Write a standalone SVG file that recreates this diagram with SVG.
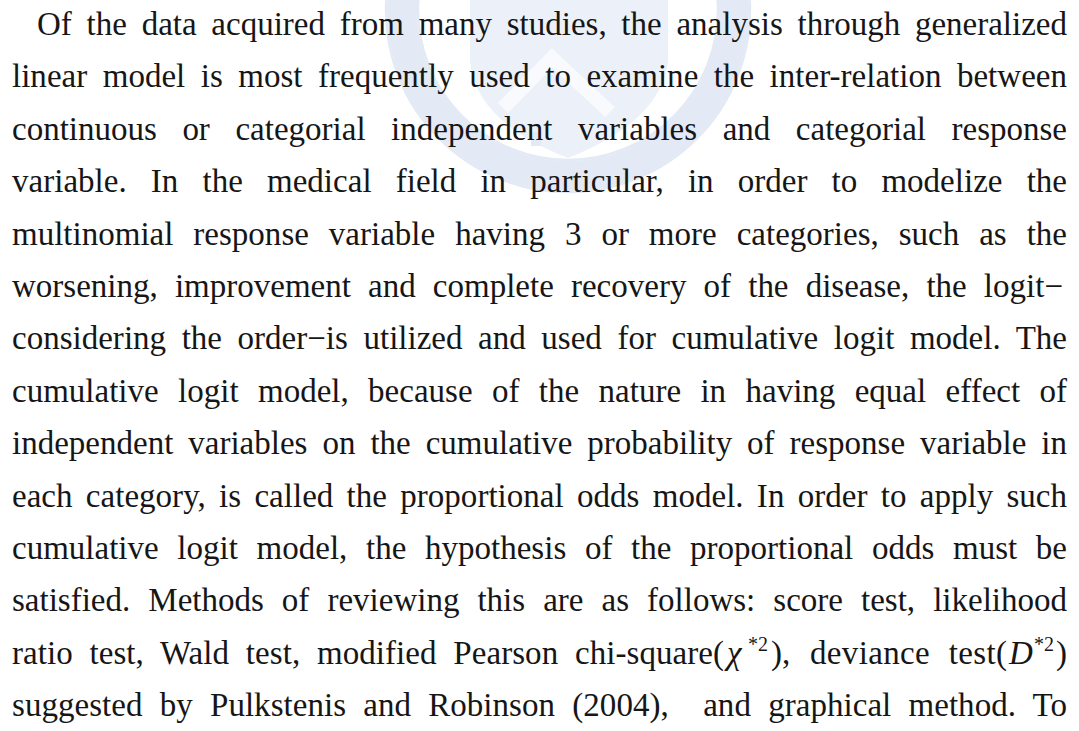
<svg xmlns="http://www.w3.org/2000/svg" width="1079" height="731" viewBox="0 0 1079 731">
  <style>
    .t { font-family: "Liberation Serif", "Times New Roman", serif; font-size: 33px; fill: #161616; }
    .it { font-style: italic; }
    .sup { font-family: "Liberation Serif", "Times New Roman", serif; font-size: 20px; fill: #161616; }
    .ring { fill: none; stroke: #e3eaf5; }
  </style>

  <rect x="0" y="0" width="1079" height="731" fill="#ffffff"/>

  <!-- faint university seal behind the text -->
  <g id="seal">
    <circle class="ring" cx="568" cy="10" r="166" stroke-width="30" stroke="#eef2fa"/>
    <circle class="ring" cx="568" cy="10" r="182" stroke-width="2.5"/>
    <circle class="ring" cx="568" cy="10" r="150" stroke-width="2.5"/>
    <circle cx="406" cy="50" r="8" fill="#e3eaf5"/>
    <circle cx="730" cy="50" r="8" fill="#e3eaf5"/>
    <path d="M470,-5 L668,-5 L668,62 Q660,122 568,158 Q476,122 470,62 Z" fill="#ecf1f9"/>
    <path d="M503,108 L552,58 L610,112" fill="none" stroke="#f9fafd" stroke-width="14"/>
    <rect x="531" y="132" width="10" height="14" fill="#e3eaf5"/>
  </g>

  <!-- paragraph -->
  <g id="paragraph">
    <text class="t" x="37" y="35" textLength="1030" lengthAdjust="spacing" word-spacing="6.5">Of the data acquired from many studies, the analysis through generalized</text>
    <text class="t" x="12" y="87.4" textLength="1055" lengthAdjust="spacing" word-spacing="7.2">linear model is most frequently used to examine the inter-relation between</text>
    <text class="t" x="12" y="139.8" textLength="1055" lengthAdjust="spacing" word-spacing="17.3">continuous or categorial independent variables and categorial response</text>
    <text class="t" x="12" y="192.2" textLength="1055" lengthAdjust="spacing" word-spacing="15.8">variable. In the medical field in particular, in order to modelize the</text>
    <text class="t" x="12" y="244.6" textLength="1055" lengthAdjust="spacing" word-spacing="11.7">multinomial response variable having 3 or more categories, such as the</text>
    <text class="t" x="12" y="297" textLength="1051" lengthAdjust="spacing" word-spacing="8.9">worsening, improvement and complete recovery of the disease, the logit−</text>
    <text class="t" x="12" y="349.4" textLength="1055" lengthAdjust="spacing" word-spacing="7.3">considering the order−is utilized and used for cumulative logit model. The</text>
    <text class="t" x="12" y="401.8" textLength="1055" lengthAdjust="spacing" word-spacing="11.1">cumulative logit model, because of the nature in having equal effect of</text>
    <text class="t" x="12" y="454.2" textLength="1055" lengthAdjust="spacing" word-spacing="6.7">independent variables on the cumulative probability of response variable in</text>
    <text class="t" x="12" y="506.6" textLength="1055" lengthAdjust="spacing" word-spacing="5">each category, is called the proportional odds model. In order to apply such</text>
    <text class="t" x="12" y="559" textLength="1055" lengthAdjust="spacing" word-spacing="10.4">cumulative logit model, the hypothesis of the proportional odds must be</text>
    <text class="t" x="12" y="611.4" textLength="1055" lengthAdjust="spacing" word-spacing="9.8">satisfied. Methods of reviewing this are as follows: score test, likelihood</text>

    <!-- line with the two statistics and their superscripts -->
    <text class="t" x="12" y="663.8" textLength="712" lengthAdjust="spacing" word-spacing="8.4">ratio test, Wald test, modified Pearson chi-square(</text>
    <text class="t it" x="727" y="663.8">χ</text>
    <text class="sup" x="748" y="651">*2</text>
    <text class="t" x="771" y="663.8">),</text>
    <text class="t" x="810" y="663.8" textLength="197" lengthAdjust="spacing" word-spacing="10">deviance test(</text>
    <text class="t it" x="1009" y="663.8">D</text>
    <text class="sup" x="1034" y="651">*2</text>
    <text class="t" x="1056" y="663.8">)</text>

    <text class="t" x="12" y="716.2" textLength="1055" lengthAdjust="spacing" word-spacing="8.9" xml:space="preserve" style="white-space:pre">suggested by Pulkstenis and Robinson (2004),  and graphical method. To</text>
  </g>
</svg>
